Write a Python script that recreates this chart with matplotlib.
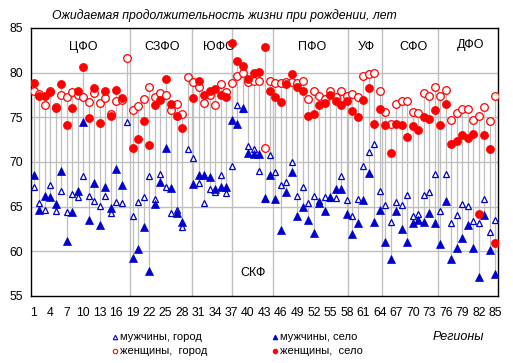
import numpy as np
import matplotlib
matplotlib.use("Agg")
import matplotlib.pyplot as plt
from matplotlib.lines import Line2D

plt.rcParams['font.family'] = ['Liberation Sans', 'DejaVu Sans']

nan = np.nan
regions = np.arange(1, 86)

# men, city (open triangles)
men_city = [67.2, 65.4, 64.6, 67.4, 64.5, 66.8, 64.4, 66.4, 66.1, 68.4,
            66.2, 65.6, 65.1, 66.2, 64.3, 65.5, 65.4, 74.5, 64.0, 65.5,
            66.1, 68.4, 65.9, 68.7, 67.2, 64.3, 64.6, 62.7, 71.4, 70.4,
            67.6, 65.4, 67.0, 66.6, 68.6, 66.5, 69.6, 76.4, 75.9, 71.8,
            71.5, 69.0, 65.9, 70.8, 68.9, 67.4, 67.8, 70.0, 66.2, 67.2,
            65.4, 66.2, 65.6, 66.1, 66.0, 66.0, 68.4, 65.8, 64.0, 65.9,
            69.5, 71.1, 72.0, 66.8, 65.2, 63.3, 65.5, 65.2, 66.3, 64.0,
            64.2, 66.3, 66.6, 68.7, 64.5, 68.7, 63.2, 64.1, 65.3, 65.1,
            63.4, 63.2, 65.9, 62.2, 63.5]
# men, village (filled triangles)
men_village = [68.5, 64.6, 66.2, 66.1, 65.3, 69.0, 61.2, 64.4, 66.8, 74.5,
               63.5, 67.7, 63.0, 67.2, 64.9, 69.2, 67.4, nan, 59.3, 60.3,
               62.7, 57.8, 65.3, 67.8, 71.6, 67.1, 64.3, 63.3, nan, 67.5,
               68.5, 68.5, 68.3, 67.0, 67.2, 67.2, 74.7, 74.3, 76.0, 71.0,
               70.9, 70.9, 66.0, 68.5, 65.9, 62.4, 66.6, 68.9, 64.0, 65.0,
               63.5, 62.0, 65.4, 64.5, 66.1, 67.0, 67.0, 64.2, 61.9, 63.2,
               65.8, 68.8, 63.3, 64.6, 61.0, 59.1, 64.5, 62.5, 61.0, 63.2,
               63.5, 63.3, 64.3, 63.2, 60.8, 65.6, 59.1, 60.4, 61.5, 62.9,
               60.4, 57.1, 64.1, 60.2, 57.5]
# women, city (open circles)
women_city = [78.0, 77.6, 76.4, 78.0, 76.2, 77.5, 77.3, 77.8, 77.5, 77.3,
              76.7, 77.7, 76.6, 77.2, 75.4, 76.8, 76.9, 81.6, 75.8, 76.3,
              77.0, 78.4, 77.3, 77.7, 77.5, 75.8, 76.5, 75.4, 79.5, 79.0,
              78.4, 76.6, 77.5, 76.4, 78.7, 77.8, 78.8, 79.6, 80.0, 78.9,
              79.1, 79.1, 71.6, 79.1, 78.8, 78.8, 79.0, 79.0, 78.8, 79.1,
              77.1, 78.0, 77.4, 77.0, 78.0, 77.3, 77.9, 77.4, 77.6, 77.3,
              79.6, 79.8, 80.0, 78.0, 75.6, 74.3, 76.5, 76.8, 76.8, 75.6,
              75.5, 77.7, 77.4, 78.4, 77.4, 78.1, 74.7, 75.5, 75.9, 75.9,
              74.7, 75.1, 76.2, 74.6, 77.4]
# women, village (filled circles)
women_village = [78.85, 77.4, 77.4, 77.8, 76.0, 78.7, 74.1, 76.1, 78.0, 80.6,
                 74.9, 78.3, 74.4, 78.0, 75.1, 78.1, 77.2, nan, 71.6, 72.6,
                 74.6, 71.9, 76.4, 76.9, 79.3, 76.5, 75.1, 73.8, nan, 77.2,
                 79.1, 77.5, 78.0, 78.2, 77.5, 77.3, 83.3, 81.3, 80.7, 79.3,
                 80.0, 80.1, 82.9, 78.0, 77.3, 76.7, 78.7, 79.8, 78.4, 78.0,
                 75.2, 75.4, 76.4, 76.6, 77.5, 76.8, 76.4, 76.8, 75.7, 75.0,
                 76.9, 78.3, 74.2, 75.9, 74.1, 71.0, 74.2, 74.1, 72.8, 74.0,
                 73.6, 75.0, 74.8, 75.8, 74.1, 76.5, 72.0, 72.3, 73.0, 72.7,
                 73.1, 64.2, 73.0, 71.4, 60.9]

districts = ['ЦФО', 'СЗФО', 'ЮФО', 'ПФО', 'УФ', 'СФО', 'ДФО']
district_x = [10, 24.3, 34.7, 51.7, 61.6, 70.1, 80.6]
separators = [18.52, 29.86, 37.14, 44.6, 58.25, 64.44, 74.63]

blue = '#0000cc'
red = '#ff0000'
grid = '#bfbfbf'

fig = plt.figure(figsize=(5.13, 3.63), dpi=100)
W, H = 513, 363
ax = fig.add_axes([31 / W, 1 - 296 / H, 467 / W, 268 / H])

series = np.array([men_city, men_village, women_city, women_village])
lo = np.nanmin(series, axis=0)
hi = np.nanmax(series, axis=0)
ax.vlines(regions, lo, hi, color=grid, lw=0.9, zorder=1)

for s in separators:
    ax.axvline(s, color=grid, lw=1.0, zorder=1)
for yv in [60, 65, 70, 75, 80]:
    ax.axhline(yv, color=grid, lw=1.0, zorder=1)

for name, xx in zip(districts, district_x):
    y = 82.9 if name != 'ДФО' else 83.1
    ax.text(xx, y, name, ha='center', va='center', fontsize=9, zorder=2)
ax.text(40.9, 57.6, 'СКФ', ha='center', va='center', fontsize=9, zorder=2)

ax.plot(regions, men_city, ls='none', marker='^', ms=4.4, mfc='white',
        mec=blue, mew=0.9, zorder=3)
ax.plot(regions, men_village, ls='none', marker='^', ms=5.9, mfc=blue,
        mec=blue, mew=0.5, zorder=3)
ax.plot(regions, women_city, ls='none', marker='o', ms=5.5, mfc='white',
        mec=red, mew=0.9, zorder=4)
ax.plot(regions, women_village, ls='none', marker='o', ms=5.8, mfc=red,
        mec=red, mew=0.5, zorder=4)

ax.set_xlim(0.5, 85.5)
ax.set_ylim(55, 85)
ax.set_xticks(np.arange(1, 86, 3))
ax.set_yticks(np.arange(55, 86, 5))
ax.tick_params(length=0, labelsize=8.8, pad=6)
ax.tick_params(axis='x', pad=8)
for sp in ax.spines.values():
    sp.set_linewidth(1.0)
    sp.set_color('black')

fig.text(52 / W, 1 - 16 / H, 'Ожидаемая продолжительность жизни при рождении, лет',
         fontsize=8.8, style='italic', va='center', ha='left')

# legend
leg = [(115, 337, '^', 'white', 'мужчины, город'),
       (115, 351, 'o', 'white', 'женщины,  город'),
       (275, 337, '^', blue, 'мужчины, село'),
       (275, 351, 'o', red, 'женщины,  село')]
for px, py, mk, fc, lab in leg:
    ec = red if mk == 'o' else blue
    fcol = fc if fc == 'white' else ec
    fig.add_artist(Line2D([px / W], [1 - py / H], transform=fig.transFigure,
                          marker=mk, ms=3.2, mfc=fcol, mec=ec, mew=0.8, ls='none'))
    fig.text((px + 5) / W, 1 - py / H, lab, fontsize=8, va='center', ha='left')
fig.text(433 / W, 1 - 337 / H, 'Регионы', fontsize=9, style='italic',
         va='center', ha='left')

fig.savefig('out.png', dpi=100)
